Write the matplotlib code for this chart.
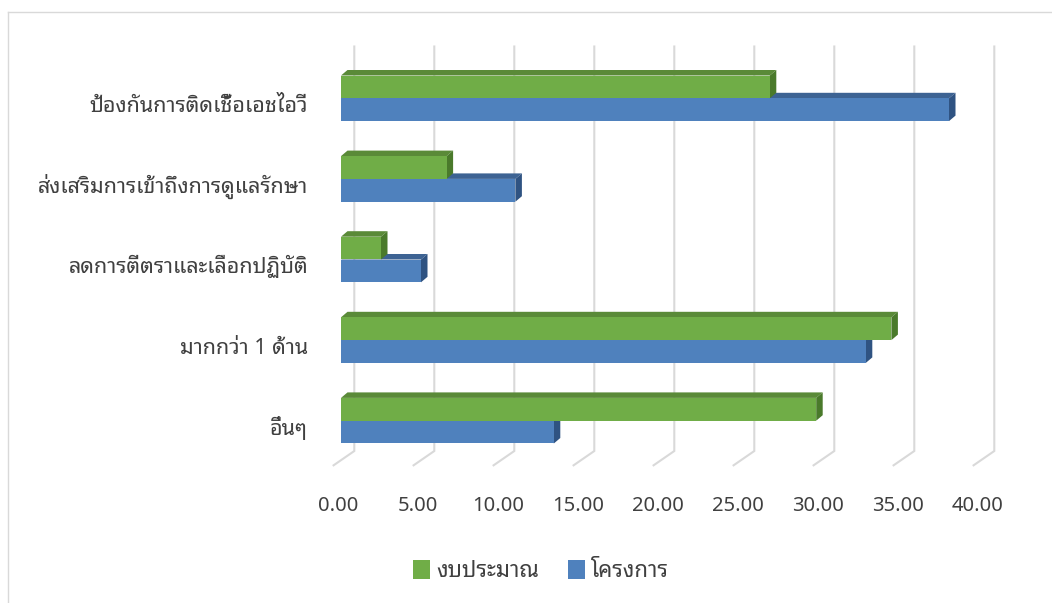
import matplotlib
matplotlib.use("Agg")
import matplotlib.pyplot as plt
from matplotlib import font_manager
from matplotlib.patches import Polygon, Patch
from matplotlib.lines import Line2D

# ---- data -------------------------------------------------------------
categories = [
    "ป้องกันการติดเชื้อเอชไอวี",
    "ส่งเสริมการเข้าถึงการดูแลรักษา",
    "ลดการตีตราและเลือกปฏิบัติ",
    "มากกว่า 1 ด้าน",
    "อื่นๆ",
]
budget = [26.8, 6.6, 2.5, 34.4, 29.7]      # งบประมาณ (%)
projects = [38.0, 10.9, 5.0, 32.8, 13.3]   # โครงการ (%)
series_names = ["งบประมาณ", "โครงการ"]
ticks = [0, 5, 10, 15, 20, 25, 30, 35, 40]

# ---- fonts --------------------------------------------------------------
available = {f.name for f in font_manager.fontManager.ttflist}
thai_font = next((n for n in ["Noto Sans Thai Looped", "Sarabun",
                              "IBM Plex Sans Thai Looped", "Noto Sans Thai",
                              "Krub", "Trirong"] if n in available), "DejaVu Sans")
plt.rcParams["font.family"] = [thai_font, "DejaVu Sans"]

W, H = 1052, 603
fig = plt.figure(figsize=(W / 100, H / 100), dpi=100)

# axes spanning the front plane of the bars
ax = fig.add_axes([341 / W, 1 - 461 / H, 640 / W, 403 / H])
ax.set_xlim(0, 40)
ax.set_ylim(4.5, -0.5)
ax.axis("off")

ux = ax.bbox.width / 40.0     # pixels per value unit
uy = ax.bbox.height / 5.0     # pixels per category step


def dxy(px_x, px_y):
    """pixel shift (right, down) -> data shift"""
    return px_x / ux, px_y / uy


text_col = "#404040"
grid_col = "#D9D9D9"

# back wall gridlines and floor diagonals
wall_dx, wall_dy = dxy(13.3, -10.0)
floor_dx, floor_dy = dxy(-20.7, 14.3)
top_extra = dxy(0, -1.5)[1]
for v in ticks:
    xb = v + wall_dx
    y_top = -0.5 + wall_dy + top_extra
    y_bot = 4.5 + wall_dy
    ax.add_line(Line2D([xb, xb, xb + floor_dx], [y_top, y_bot, y_bot + floor_dy],
                       color=grid_col, lw=1.5, zorder=1, clip_on=False,
                       solid_joinstyle="miter"))

# 3D bars
bar_h = 22.8 / 80.6
depth_dx, depth_dy = dxy(6.5, -5.5)

styles = {
    "green": dict(front="#70AD47", top="#5A8A38", side="#4A7A2B"),
    "blue": dict(front="#4F81BD", top="#3D6393", side="#2F5382"),
}


def bar3d(y_center, value, st, z):
    y0 = y_center - bar_h / 2
    y1 = y_center + bar_h / 2
    top = [(0, y0), (value, y0), (value + depth_dx, y0 + depth_dy), (depth_dx, y0 + depth_dy)]
    side = [(value, y0), (value + depth_dx, y0 + depth_dy),
            (value + depth_dx, y1 + depth_dy), (value, y1)]
    ax.add_patch(Polygon(top, closed=True, fc=st["top"], ec="none", zorder=z, clip_on=False))
    ax.add_patch(Polygon(side, closed=True, fc=st["side"], ec="none", zorder=z, clip_on=False))


ypos = list(range(len(categories)))
for i, v in zip(ypos, projects):
    bar3d(i + bar_h / 2, v, styles["blue"], 2)
ax.barh([i + bar_h / 2 for i in ypos], projects, height=bar_h,
        color=styles["blue"]["front"], edgecolor="none", zorder=3)
for i, v in zip(ypos, budget):
    bar3d(i - bar_h / 2, v, styles["green"], 4)
ax.barh([i - bar_h / 2 for i in ypos], budget, height=bar_h,
        color=styles["green"]["front"], edgecolor="none", zorder=5)

# category labels
lab_dx, lab_dy = dxy(-33, 14)
for i, name in zip(ypos, categories):
    ax.text(lab_dx, i + lab_dy, name, ha="right", va="baseline",
            fontsize=15.5, color=text_col, clip_on=False)

# value tick labels
tick_y = 4.5 + dxy(0, 45)[1]
tick_dx = dxy(-3, 0)[0]
for v in ticks:
    ax.text(v + tick_dx, tick_y, f"{v:.2f}", ha="center", va="center",
            fontsize=14.5, color=text_col, clip_on=False)

# legend
handles = [Patch(facecolor=styles["green"]["front"], edgecolor="none"),
           Patch(facecolor=styles["blue"]["front"], edgecolor="none")]
fig.legend(handles, series_names, loc="center", bbox_to_anchor=(541 / W, 1 - 571 / H),
           ncol=2, frameon=False, fontsize=16, handlelength=0.75, handleheight=0.95,
           handletextpad=0.3, columnspacing=1.3, labelcolor=text_col)

# chart area border (top and left edges)
fig.add_artist(Line2D([7.5 / W, 1.0], [1 - 11.5 / H, 1 - 11.5 / H],
                      transform=fig.transFigure, color=grid_col, lw=1.0))
fig.add_artist(Line2D([7.5 / W, 7.5 / W], [0.0, 1 - 11.5 / H],
                      transform=fig.transFigure, color=grid_col, lw=1.0))

fig.savefig("out.png", dpi=100, facecolor="white")
